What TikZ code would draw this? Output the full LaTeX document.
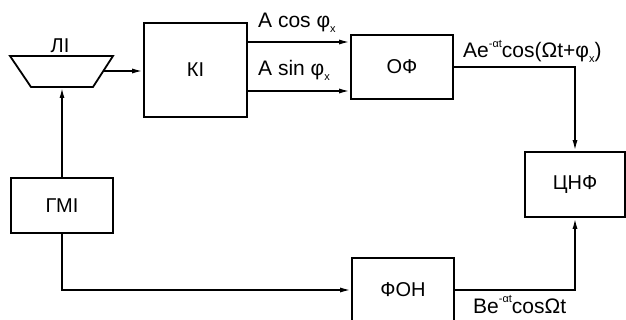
\documentclass[tikz,border=0pt]{standalone}
\usepackage{fontspec}
\setmainfont{Liberation Sans}
\usetikzlibrary{arrows.meta,calc}
\newcommand\mysup[1]{\raisebox{0.5em}{\fontsize{11}{11}\selectfont #1}}
\newcommand\mysub[1]{\raisebox{-0.2em}{\fontsize{11}{11}\selectfont #1}}
\begin{document}
\begin{tikzpicture}[x=1pt,y=-1pt,
  box/.style={draw, line width=1.8pt, inner sep=0pt, font=\fontsize{20}{20}\selectfont},
  conn/.style={line width=1.8pt, -{Latex[length=11pt,width=5pt]}},
  lbl/.style={font=\fontsize{21}{21}\selectfont, inner sep=0pt, anchor=base west}]
\useasboundingbox (0,0) rectangle (626,320);
\clip (0,0) rectangle (626,320);
\fill[white] (0,0) rectangle (626,320);
% trapezoid
\draw[line width=1.8pt] (10,56) -- (113,56) -- (93,87) -- (31,87) -- cycle;
\coordinate (liR) at (103.3,71);
\coordinate (liB) at (62,87);
\node[font=\fontsize{20}{20}\selectfont, inner sep=0pt] (lil) at (60,46) {ЛІ};
% boxes
\node[box, minimum width=103, minimum height=94] (ki) at (195.5,70) {КІ};
\node[box, minimum width=102, minimum height=64] (of) at (402,67) {ОФ};
\node[box, minimum width=100, minimum height=65] (cnf) at (575,184.5) {ЦНФ};
\node[box, minimum width=102, minimum height=55] (gmi) at (62,205.5) {ГМІ};
\node[box, minimum width=102, minimum height=64] (fon) at (403,290) {ФОН};
% connectors
\draw[conn] (liR) -- (liR -| ki.west);
\draw[conn] (gmi.north) -- (liB);
\draw[conn] (ki.east |- 0,42) -- (of.west |- 0,42);
\draw[conn] (ki.east |- 0,91) -- (of.west |- 0,91);
\draw[conn] (of.east) -| (cnf.north);
\draw[conn] (gmi.south) |- (fon.west);
\draw[conn] (fon.east) -| (cnf.south);
% labels
\node[lbl] (lc) at (258,28) {A cos φ\mysub{x}};
\node[lbl] (ls) at (258,76) {A sin φ\mysub{x}};
\node[lbl] (lo) at (463,58) {Ae\mysup{-αt}cos(Ωt+φ\mysub{x})};
\node[lbl] (lb) at (473,313) {Be\mysup{-αt}cosΩt};
\end{tikzpicture}
\end{document}
